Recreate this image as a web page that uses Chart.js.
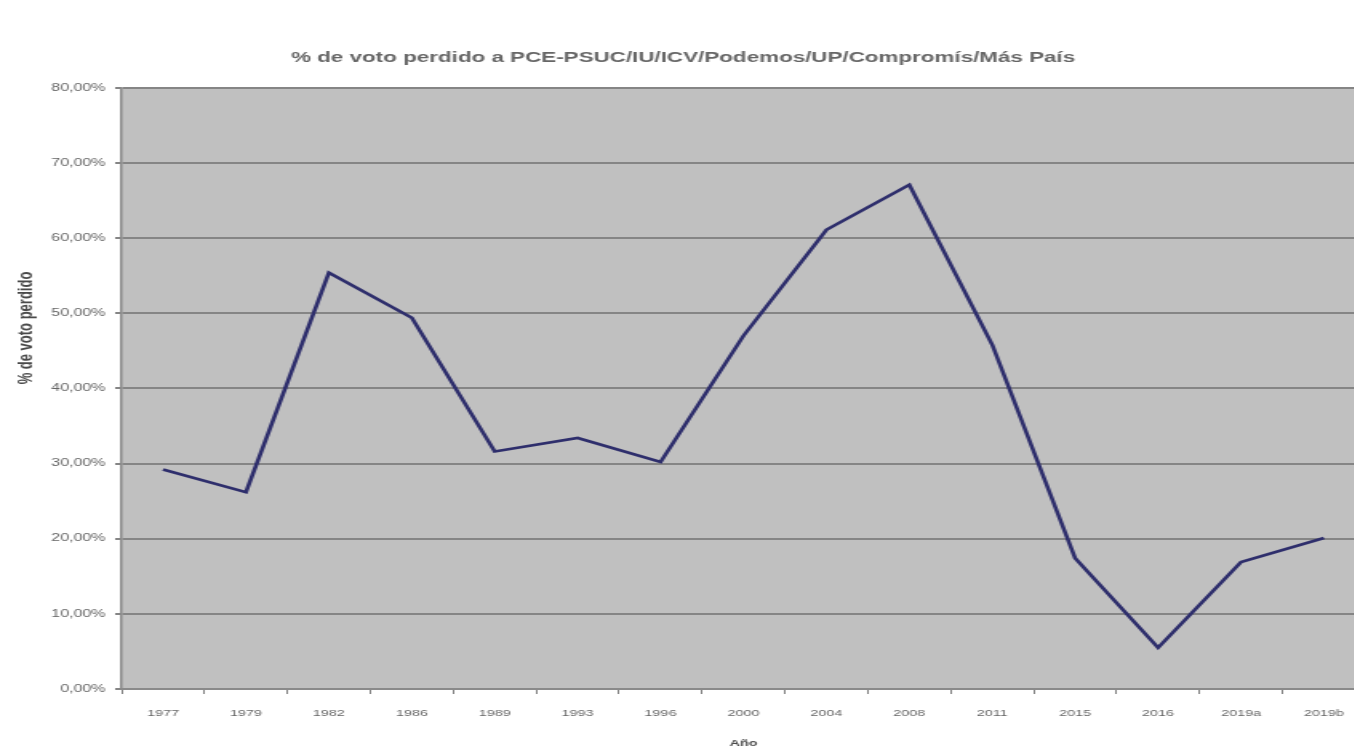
<!DOCTYPE html>
<html>
<head>
<meta charset="utf-8">
<script src="https://cdn.jsdelivr.net/npm/chart.js@4"></script>
<style>
html,body{margin:0;padding:0;background:#fff;overflow:hidden;width:1354px;height:749px;}
/* the reference picture is stretched sideways, so the canvas is too */
#wrap{width:854px;height:749px;transform:scaleX(1.6);transform-origin:0 0;}
</style>
</head>
<body>
<div id="wrap"><canvas id="lineChart" width="854" height="749"></canvas></div>
<script>
const years = ["1977","1979","1982","1986","1989","1993","1996","2000","2004","2008","2011","2015","2016","2019a","2019b"];
const votoPerdido = [29.2,26.2,55.4,49.4,31.6,33.4,30.2,47.0,61.1,67.1,45.8,17.4,5.5,16.9,20.1];
const yTicks = [0,10,20,30,40,50,60,70,80];

const titleText = "% de voto perdido a PCE-PSUC/IU/ICV/Podemos/UP/Compromís/Más País";
const yTitleText = "% de voto perdido";
const textColor = "#666";

const plotBg = {
    id:"plotBg",
    beforeDraw(chart){
        const a = chart.chartArea;
        const c = chart.ctx;
        c.save();
        c.fillStyle = "#c0c0c0";
        c.fillRect(a.left, a.top, a.right - a.left, a.bottom - a.top);
        c.restore();
    },
    afterDraw(chart){
        // y title sits above the middle of the axis in the reference
        const c = chart.ctx;
        c.save();
        c.translate(16, 328);
        c.rotate(-Math.PI / 2);
        c.fillStyle = "#4a4a4a";
        c.font = "bold 13px 'Liberation Sans'";
        c.textAlign = "center";
        c.textBaseline = "middle";
        c.fillText(yTitleText, 0, 0);
        c.restore();
    }
};

const ctx = document.getElementById("lineChart").getContext("2d");

new Chart(ctx,{
    type:"line",
    data:{
        labels:years,
        datasets:[{
            label:yTitleText,
            data:votoPerdido,
            borderColor:"#2e2e6c",
            borderWidth:2.6,
            pointRadius:0,
            tension:0,
            fill:false
        }]
    },
    options:{
        responsive:false,
        animation:false,
        devicePixelRatio:1,
        layout:{padding:{left:0,right:0,top:0,bottom:0}},
        plugins:{
            legend:{display:false},
            tooltip:{enabled:false},
            title:{
                display:true,
                text:titleText,
                color:textColor,
                font:{family:"Liberation Sans",size:14,weight:"bold"},
                padding:{top:50,bottom:21}
            }
        },
        scales:{
            x:{
                offset:true,
                afterFit(scale){
                    scale.height = 60;
                },
                grid:{
                    offset:true,
                    drawOnChartArea:false,
                    drawTicks:true,
                    tickLength:5,
                    lineWidth:1,
                    color:"#808080"
                },
                border:{color:"#8a8a8a",width:2},
                ticks:{
                    color:textColor,
                    padding:14,
                    maxRotation:0,
                    autoSkip:false,
                    font:{family:"Liberation Sans",size:9}
                },
                title:{
                    display:true,
                    text:"Año",
                    color:"#4a4a4a",
                    font:{family:"Liberation Sans",size:9,weight:"bold"},
                    padding:{top:6,bottom:0}
                }
            },
            y:{
                min:0,
                max:80,
                afterBuildTicks(scale){
                    scale.ticks = yTicks.map(v=>({value:v}));
                },
                afterFit(scale){
                    scale.width = 76;
                },
                grid:{
                    color:"#858585",
                    lineWidth:2,
                    tickLength:4
                },
                border:{color:"#8a8a8a",width:1.5},
                ticks:{
                    color:textColor,
                    padding:6,
                    font:{family:"Liberation Sans",size:10},
                    callback:v=>v.toFixed(2).replace(".",",") + "%"
                }
            }
        }
    },
    plugins:[plotBg]
});
</script>
</body>
</html>
